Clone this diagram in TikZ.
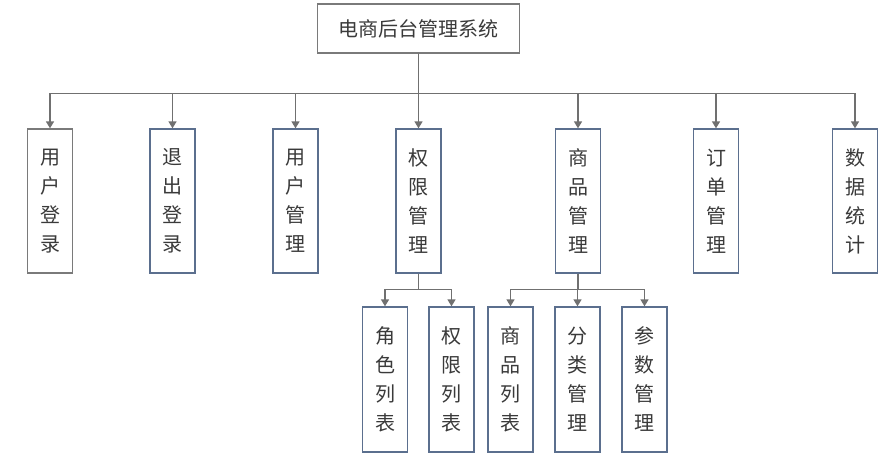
\documentclass[tikz,border=0pt]{standalone}
\usepackage{fontspec}
\setmainfont{Noto Sans CJK SC}
\usetikzlibrary{arrows.meta}
\definecolor{boxblue}{HTML}{5B6F8E}
\definecolor{boxgray}{HTML}{7A7A7A}
\definecolor{linegray}{HTML}{707070}
\definecolor{txt}{HTML}{3A3A3A}
\begin{document}
\begin{tikzpicture}[x=1pt,y=-1pt,
  vbox/.style={draw=boxblue, line width=1.3pt, minimum width=45pt, minimum height=144pt, inner sep=0pt, align=center, text=txt, font=\fontsize{20}{29}\selectfont},
  tbox/.style={draw=boxgray, line width=1.3pt, minimum width=202pt, minimum height=49pt, inner sep=0pt, text=txt, font=\fontsize{20}{24}\selectfont},
  conn/.style={draw=linegray, line width=1.4pt},
  arr/.style={conn, -{Triangle[width=8pt,length=7pt]}}]
\useasboundingbox (0,0) rectangle (890,457);
\fill[white] (0,0) rectangle (890,457);

\node[tbox] (title) at (418.5,28.5) {电商后台管理系统};

\node[vbox, draw=boxgray] (a1) at (50,201) {用\\户\\登\\录};
\node[vbox] (a2) at (172.5,201) {退\\出\\登\\录};
\node[vbox] (a3) at (295.5,201) {用\\户\\管\\理};
\node[vbox] (a4) at (418.5,201) {权\\限\\管\\理};
\node[vbox] (a5) at (578,201) {商\\品\\管\\理};
\node[vbox] (a6) at (716,201) {订\\单\\管\\理};
\node[vbox] (a7) at (855,201) {数\\据\\统\\计};

\node[vbox, minimum height=145pt] (b1) at (385,379.5) {角\\色\\列\\表};
\node[vbox, minimum height=145pt] (b2) at (451.5,379.5) {权\\限\\列\\表};
\node[vbox, minimum height=145pt] (b3) at (510.5,379.5) {商\\品\\列\\表};
\node[vbox, minimum height=145pt] (b4) at (577.5,379.5) {分\\类\\管\\理};
\node[vbox, minimum height=145pt] (b5) at (644.5,379.5) {参\\数\\管\\理};

\foreach \n in {a1,a2,a3,a4,a5,a6,a7}
  \draw[arr] (title.south) -- ++(0,40) -| (\n.north);
\foreach \n in {b1,b2}
  \draw[arr] (a4.south) -- ++(0,16) -| (\n.north);
\foreach \n in {b3,b4,b5}
  \draw[arr] (a5.south) -- ++(0,16) -| (\n.north);
\end{tikzpicture}
\end{document}
